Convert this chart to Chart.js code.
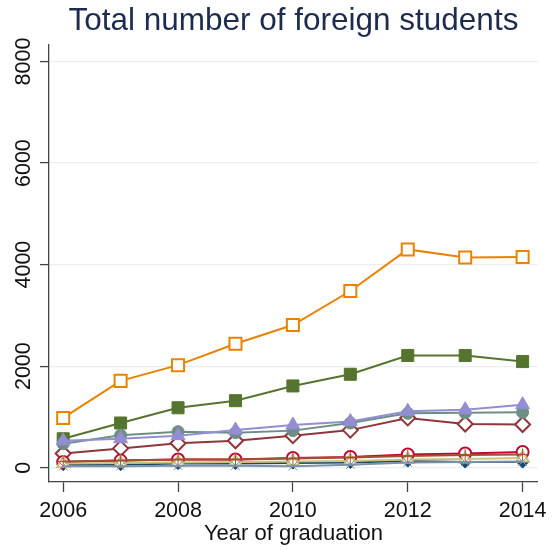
<!DOCTYPE html>
<html>
<head>
<meta charset="utf-8">
<title>Total number of foreign students</title>
<script src="https://cdn.jsdelivr.net/npm/chart.js@4/dist/chart.umd.min.js"></script>
<style>
  html, body { margin: 0; padding: 0; background: #fff; }
  #wrap { width: 553px; height: 550px; }
</style>
</head>
<body>
<div id="wrap"><canvas id="chart" width="553" height="550"></canvas></div>
<script>
const years = [2006, 2007, 2008, 2009, 2010, 2011, 2012, 2013, 2014];
const yTicks = [0, 2000, 4000, 6000, 8000];
const xTicks = [2006, 2008, 2010, 2012, 2014];

// one array per series, in plotting order
const navy     = [60, 60, 80, 80, 90, 100, 130, 110, 110];
const maroon   = [280, 380, 480, 530, 630, 740, 980, 860, 850];
const green    = [570, 880, 1180, 1320, 1610, 1840, 2210, 2210, 2090];
const orange   = [980, 1710, 2020, 2440, 2810, 3480, 4300, 4140, 4150];
const teal     = [470, 640, 710, 690, 730, 880, 1070, 1080, 1090];
const cranberry= [110, 140, 160, 160, 190, 210, 260, 280, 310];
const lavender = [530, 570, 630, 740, 840, 910, 1110, 1140, 1240];
const khaki    = [80, 90, 100, 110, 120, 130, 160, 170, 190];
const sienna   = [120, 140, 160, 160, 180, 200, 230, 250, 260];
const emidblue = [30, 30, 40, 40, 30, 60, 100, 110, 120];

const FONT = "'Liberation Sans', Arial, sans-serif";
const AXIS = "#444";

function series(values, color, style, radius, hollow) {
  return {
    data: years.map((x, i) => ({ x, y: values[i] })),
    borderColor: color,
    borderWidth: 2,
    pointStyle: style,
    pointRadius: radius,
    pointBorderColor: color,
    pointBorderWidth: hollow ? 2 : 1,
    pointBackgroundColor: hollow ? "#fff" : color,
    tension: 0
  };
}

const datasets = [
  series(navy,      "#1a476f", "rectRot",  6,   false),
  series(maroon,    "#90353b", "rectRot",  7.5, true),
  series(green,     "#55752f", "rect",     8.5, false),
  series(orange,    "#ea8200", "rect",     8.5, true),
  series(teal,      "#6e8e84", "circle",   6,   false),
  series(cranberry, "#c10534", "circle",   6,   true),
  series(lavender,  "#938dd2", "triangle", 8,   false),
  series(khaki,     "#cac27e", "triangle", 7,   true),
  series(sienna,    "#a0522d", "cross",    6,   false),
  series(emidblue,  "#7b92a8", "crossRot", 6,   false)
];
// later series sit on top of earlier ones
datasets.forEach((d, i) => { d.order = datasets.length - i; });

// y labels are turned on their side, so they are drawn here
const sideLabels = {
  id: "sideLabels",
  afterDraw(chart) {
    const y = chart.scales.y;
    const ctx = chart.ctx;
    ctx.save();
    ctx.fillStyle = "#111";
    ctx.font = "21.5px " + FONT;
    ctx.textAlign = "center";
    ctx.textBaseline = "middle";
    yTicks.forEach(v => {
      ctx.save();
      ctx.translate(24, y.getPixelForValue(v));
      ctx.rotate(-Math.PI / 2);
      ctx.fillText(String(v), 0, 0);
      ctx.restore();
    });
    ctx.restore();
  }
};

new Chart(document.getElementById("chart"), {
  type: "line",
  data: { datasets },
  plugins: [sideLabels],
  options: {
    animation: false,
    responsive: false,
    layout: { padding: { left: 0, right: 11, top: 0, bottom: 0 } },
    scales: {
      x: {
        type: "linear",
        min: 2005.753,
        max: 2014.264,
        afterBuildTicks: s => { s.ticks = xTicks.map(value => ({ value })); },
        afterFit: s => { s.height = 68; },
        ticks: {
          color: "#111",
          font: { family: FONT, size: 21.5 },
          padding: 6,
          maxRotation: 0,
          callback: v => String(v)
        },
        grid: { drawOnChartArea: false, drawTicks: true, tickLength: 10, tickColor: AXIS, tickWidth: 1.3 },
        border: { display: true, color: AXIS, width: 1.3 },
        title: {
          display: true,
          text: "Year of graduation",
          color: "#111",
          font: { family: FONT, size: 22 },
          padding: { top: 0, bottom: 3 }
        }
      },
      y: {
        min: -282,
        max: 8330,
        afterBuildTicks: s => { s.ticks = yTicks.map(value => ({ value })); },
        afterFit: s => { s.width = 49; },
        ticks: { display: false },
        grid: { color: "#e8eef1", lineWidth: 1.2, drawTicks: true, tickLength: 9, tickColor: AXIS, tickWidth: 1.3 },
        border: { display: true, color: AXIS, width: 1.3 }
      }
    },
    plugins: {
      legend: { display: false },
      tooltip: { enabled: false },
      title: {
        display: true,
        fullSize: false,
        text: "Total number of foreign students",
        color: "#1c2b4e",
        font: { family: FONT, size: 31.5, weight: "normal" },
        padding: { top: 2, bottom: 5 }
      }
    }
  }
});
</script>
</body>
</html>
